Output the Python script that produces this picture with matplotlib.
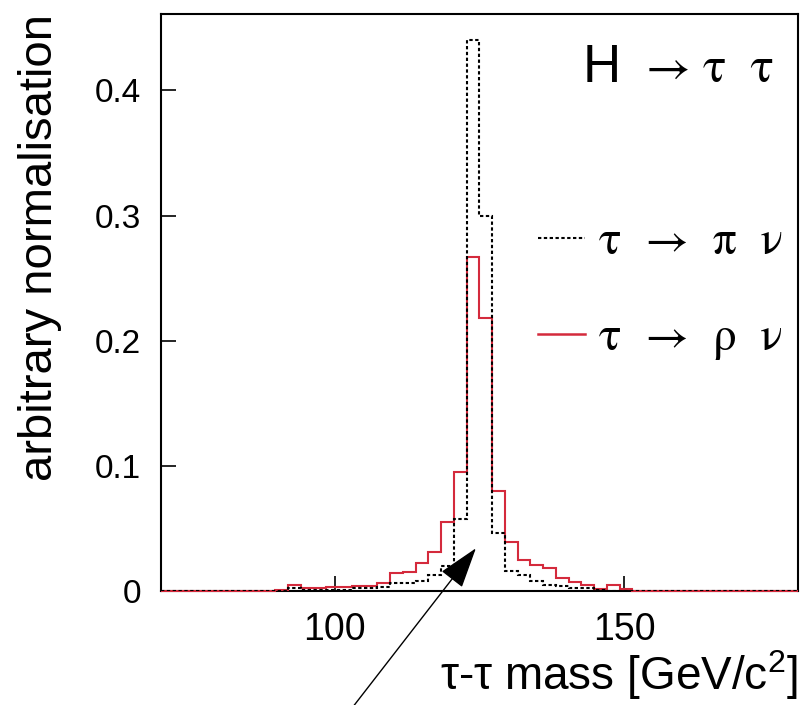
import numpy as np
import matplotlib
matplotlib.use("Agg")
import matplotlib.pyplot as plt
from matplotlib.lines import Line2D

plt.rcParams['font.family'] = ['Liberation Sans', 'DejaVu Sans']
plt.rcParams['mathtext.fontset'] = 'custom'
plt.rcParams['mathtext.rm'] = 'Liberation Sans'

# binning of the histograms: 50 bins between 70 and 180 GeV
bin_edges = np.linspace(70, 180, 51)

# tau -> rho nu (red, solid)
rho_nu = [0, 0, 0, 0, 0, 0, 0, 0, 0, 0.001,
          0.005, 0.002, 0.002, 0.003, 0.003, 0.004, 0.004, 0.006, 0.014, 0.015,
          0.022, 0.031, 0.055, 0.095, 0.267, 0.218, 0.080, 0.039, 0.025, 0.021,
          0.018, 0.010, 0.0074, 0.0048, 0.0015, 0.005, 0.0015, 0, 0, 0,
          0, 0, 0, 0, 0, 0, 0, 0, 0, 0]

# tau -> pi nu (black, dotted)
pi_nu = [0, 0, 0, 0, 0, 0, 0, 0, 0, 0,
         0.002, 0.001, 0.001, 0.001, 0.001, 0.002, 0.002, 0.003, 0.006, 0.006,
         0.008, 0.013, 0.020, 0.057, 0.440, 0.300, 0.046, 0.016, 0.013, 0.008,
         0.005, 0.004, 0.002, 0.002, 0.001, 0, 0, 0, 0, 0,
         0, 0, 0, 0, 0, 0, 0, 0, 0, 0]

y_ticks = [0, 0.1, 0.2, 0.3, 0.4]
y_tick_labels = ["0", "0.1", "0.2", "0.3", "0.4"]
x_ticks = [100, 150]
labels = ["τ  →  π  ν", "τ  →  ρ  ν"]

red = '#d42a3c'
dots = (0, (1.6, 1.2))
greek = ['STIXGeneral', 'DejaVu Serif']

fig = plt.figure(figsize=(8.04, 7.05), dpi=100)
ax = fig.add_axes([0.200, 0.162, 0.7925, 0.818])

ax.stairs(rho_nu, bin_edges, color=red, lw=1.5, zorder=3, clip_on=False)
ax.stairs(pi_nu, bin_edges, color='black', lw=1.5, linestyle=dots, zorder=4)

ax.set_xlim(70, 180)
ax.set_ylim(0, 0.461)
ax.set_xticks(x_ticks)
ax.set_yticks(y_ticks)
ax.set_yticklabels(y_tick_labels)
ax.tick_params(direction='in', length=11, width=1.2, top=False, right=False)
ax.tick_params(axis='x', pad=15, labelsize=27)
ax.tick_params(axis='y', pad=14, labelsize=24)
for s in ax.spines.values():
    s.set_linewidth(1.5)

ax.set_ylabel("arbitrary normalisation", fontsize=34, loc='top', labelpad=24)
ax.set_xlabel(r"τ-τ mass [GeV/c$^{2}$]", fontsize=33, loc='right', labelpad=0)

# process label
ax.text(0.722, 0.882, "H", transform=ax.transAxes, ha='right', va='baseline',
        fontsize=38)
ax.text(0.962, 0.882, "→ τ  τ", transform=ax.transAxes, ha='right', va='baseline',
        fontsize=35, family=greek)

handles = [Line2D([], [], color='black', lw=1.5, linestyle=dots),
           Line2D([], [], color=red, lw=1.8)]
ax.legend(handles, labels, loc='upper right', bbox_to_anchor=(0.975, 0.641),
          frameon=False, handlelength=1.0, handletextpad=0.3, labelspacing=1.12,
          borderpad=0, borderaxespad=0, prop={'family': greek, 'size': 34})

# arrow pointing at the peak
ax.annotate("", xy=(124.4, 0.034), xytext=(103.3, -0.092),
            arrowprops=dict(arrowstyle="-|>,head_length=1.3,head_width=0.42",
                            mutation_scale=20, lw=1.0, color='black',
                            shrinkA=0, shrinkB=0),
            annotation_clip=False, zorder=6)

fig.savefig("out.png", dpi=100)
